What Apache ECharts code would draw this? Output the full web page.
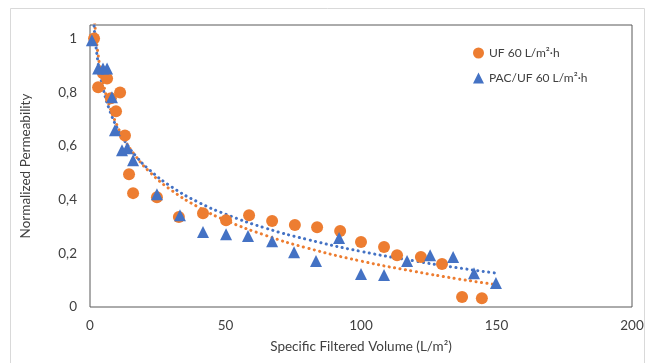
<!DOCTYPE html>
<html><head><meta charset="utf-8">
<script src="https://cdn.jsdelivr.net/npm/echarts@6/dist/echarts.min.js"></script>
<style>html,body{margin:0;padding:0;background:#fff}#c{width:647px;height:363px}</style>
</head><body><div id="c"></div>
<script>
// UF 60 L/m2·h : [specific filtered volume, normalized permeability]
const ufData = [
  [1.5,1.0],[3.0,0.818],[4.8,0.87],[6.3,0.851],[7.7,0.777],[9.6,0.729],[11.1,0.799],
  [12.9,0.639],[14.4,0.494],[15.9,0.424],[24.7,0.409],[32.8,0.335],[41.7,0.349],
  [50.2,0.323],[58.7,0.342],[67.2,0.320],[75.6,0.305],[83.8,0.297],[92.3,0.283],
  [100.0,0.242],[108.5,0.223],[113.3,0.193],[122.1,0.186],[129.9,0.160],[137.3,0.037],[144.6,0.033]
];
// PAC/UF 60 L/m2·h
const pacData = [
  [0.7,0.993],[3.0,0.888],[4.8,0.888],[6.3,0.888],[8.1,0.781],[9.2,0.658],[11.8,0.584],
  [13.7,0.591],[15.9,0.546],[24.7,0.42],[33.2,0.342],[41.7,0.279],[50.2,0.271],
  [58.3,0.264],[67.2,0.245],[75.3,0.204],[83.4,0.171],[91.9,0.257],[100.0,0.123],
  [108.5,0.119],[117.0,0.171],[125.5,0.193],[134.0,0.186],[141.7,0.126],[149.8,0.089]
];
// dotted trend lines
const trendX = [1,1.5,2,3,4,5,7,10,13,17,22,30,40,50,65,80,100,120,135,150];
const ufTrend = [1.180,1.091,1.028,0.939,0.876,0.828,0.754,0.676,0.618,0.560,0.503,0.435,0.372,0.323,0.266,0.220,0.171,0.132,0.106,0.083];
const pacTrend = [1.128,1.047,0.989,0.908,0.851,0.806,0.739,0.667,0.615,0.561,0.510,0.448,0.390,0.346,0.293,0.252,0.207,0.171,0.147,0.126];
const seriesNames = ['UF 60 L/m²·h','PAC/UF 60 L/m²·h'];
const xTitle = 'Specific Filtered Volume (L/m²)';
const yTitle = 'Normalized Permeability';

const ORANGE = '#ED7D31', BLUE = '#4472C4';
const FONT = 'Lato';
const chart = echarts.init(document.getElementById('c'), null, {renderer:'canvas'});
chart.setOption({
  animation:false,
  backgroundColor:'#fff',
  textStyle:{fontFamily:FONT},
  graphic:[{type:'rect',shape:{x:10.5,y:8.5,width:634,height:370},style:{fill:'none',stroke:'#d9d9d9',lineWidth:1},silent:true,z:-1}],
  grid:{left:90,right:15,top:25,bottom:56,show:true,borderColor:'#595959',borderWidth:1,backgroundColor:'transparent'},
  legend:{
    data:[{name:seriesNames[0],icon:'circle'},{name:seriesNames[1],icon:'triangle'}],
    orient:'vertical',left:468,top:42,itemWidth:11,itemHeight:11,itemGap:13,
    textStyle:{fontFamily:FONT,fontSize:12,color:'#404040'}
  },
  xAxis:{
    type:'value',min:0,max:200,interval:50,
    name:xTitle,nameLocation:'middle',nameGap:33,
    nameTextStyle:{fontFamily:FONT,fontSize:13.5,color:'#404040'},
    axisLine:{show:false},axisTick:{show:false},splitLine:{show:false},
    axisLabel:{fontFamily:FONT,fontSize:13.5,color:'#404040',margin:12}
  },
  yAxis:{
    type:'value',min:0,max:1.05,interval:0.2,
    name:yTitle,nameLocation:'middle',nameGap:57,
    nameTextStyle:{fontFamily:FONT,fontSize:13.5,color:'#404040'},
    axisLine:{show:false},axisTick:{show:false},splitLine:{show:false},
    axisLabel:{fontFamily:FONT,fontSize:13.5,color:'#404040',margin:13,showMaxLabel:false,
      formatter:v=>{const r=Math.round(v*10)/10;return String(r).replace('.',',');}}
  },
  series:[
    {name:seriesNames[0]+' trend',type:'line',data:trendX.map((x,i)=>[x,ufTrend[i]]),smooth:true,showSymbol:false,
     clip:true,lineStyle:{color:ORANGE,width:3,type:[0.1,5.4],cap:'round'},z:1,silent:true},
    {name:seriesNames[1]+' trend',type:'line',data:trendX.map((x,i)=>[x,pacTrend[i]]),smooth:true,showSymbol:false,
     clip:true,lineStyle:{color:BLUE,width:3,type:[0.1,5.4],cap:'round'},z:1,silent:true},
    {name:seriesNames[0],type:'scatter',data:ufData,symbol:'circle',symbolSize:12,itemStyle:{color:ORANGE,opacity:1},z:3},
    {name:seriesNames[1],type:'scatter',data:pacData,symbol:'triangle',symbolSize:12,itemStyle:{color:BLUE,opacity:1},z:4}
  ]
});
</script></body></html>
